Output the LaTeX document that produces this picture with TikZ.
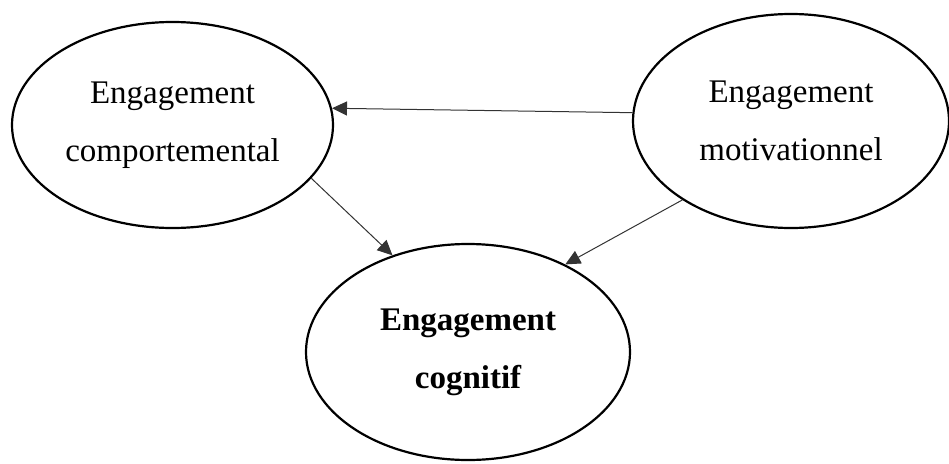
\documentclass[tikz,border=0pt]{standalone}
\usepackage{fontspec}
\setmainfont{Liberation Serif}
\usetikzlibrary{shapes.geometric,arrows.meta}
\begin{document}
\begin{tikzpicture}[x=1pt,y=-1pt,
  bubble/.style={ellipse,draw=black,line width=2.2pt,inner sep=0pt,
    align=center,font=\fontsize{33}{58}\selectfont},
  link/.style={draw=black!80,line width=1pt,
    -{Triangle[length=15pt,width=14pt]}}]
\useasboundingbox (0,0) rectangle (949,463);
% the three engagement dimensions
\node[bubble,minimum width=321pt,minimum height=206pt] (comp) at (172.5,125)
  {Engagement\\comportemental};
\node[bubble,minimum width=316pt,minimum height=214pt] (moti) at (791,121)
  {Engagement\\motivationnel};
\node[bubble,minimum width=324pt,minimum height=216pt] (cogn) at (468,352)
  {\bfseries Engagement\\\bfseries cognitif};
% influences between them
\draw[link] (moti.177.5) -- (comp.6.5);
\draw[link] (comp.-21.5) -- (cogn.128.3);
\draw[link] (moti.216) -- (cogn.42.5);
\end{tikzpicture}
\end{document}
